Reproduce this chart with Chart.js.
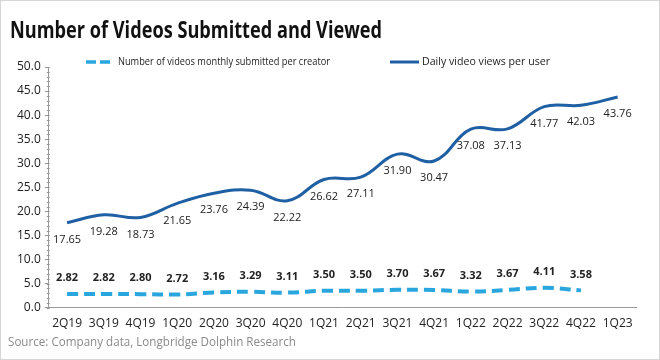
<!DOCTYPE html>
<html>
<head>
<meta charset="utf-8">
<script src="https://cdn.jsdelivr.net/npm/chart.js@4.4.0/dist/chart.umd.min.js"></script>
<style>
  html, body { margin: 0; padding: 0; background: #fff; }
  canvas { display: block; }
</style>
</head>
<body>
<canvas id="chart" width="660" height="360"></canvas>
<script>
/* ---- data ---- */
const QUARTERS  = ['2Q19','3Q19','4Q19','1Q20','2Q20','3Q20','4Q20','1Q21',
                   '2Q21','3Q21','4Q21','1Q22','2Q22','3Q22','4Q22','1Q23'];
const SUBMITTED = [2.82, 2.82, 2.80, 2.72, 3.16, 3.29, 3.11, 3.50,
                   3.50, 3.70, 3.67, 3.32, 3.67, 4.11, 3.58, null];
const VIEWS     = [17.65, 19.28, 18.73, 21.65, 23.76, 24.39, 22.22, 26.62,
                   27.11, 31.90, 30.47, 37.08, 37.13, 41.77, 42.03, 43.76];

const TITLE        = 'Number of Videos Submitted and Viewed';
const LEGEND_SUB   = 'Number of videos monthly submitted per creator';
const LEGEND_VIEWS = 'Daily video views per user';
const SOURCE       = 'Source: Company data, Longbridge Dolphin Research';

const DARK_BLUE  = '#1f5fa3';
const LIGHT_BLUE = '#2aa6de';
const TEXT       = '#222';
const FONT       = '"Open Sans", "Noto Sans", sans-serif';

/* value labels under / over each point */
const valueLabels = {
    id: 'valueLabels',
    afterDatasetsDraw(chart) {
        const { ctx } = chart;
        chart.data.datasets.forEach((ds, i) => {
            const meta = chart.getDatasetMeta(i);
            ctx.save();
            ctx.font = ds._labelFont;
            ctx.fillStyle = TEXT;
            ctx.textAlign = 'center';
            ctx.textBaseline = 'middle';
            meta.data.forEach((pt, j) => {
                const v = ds.data[j];
                if (v == null) return;
                ctx.fillText(v.toFixed(2), pt.x, pt.y + ds._labelOffset);
            });
            ctx.restore();
        });
    },
};

/* title, legend, source, minor ticks, frame */
const decorations = {
    id: 'decorations',
    afterDraw(chart) {
        const { ctx } = chart;
        const y = chart.scales.y;
        ctx.save();

        // minor ticks on the y axis
        ctx.strokeStyle = '#999';
        ctx.lineWidth = 1;
        for (let v = 0; v <= 50; v += 1) {
            const py = Math.round(y.getPixelForValue(v)) + 0.5;
            ctx.beginPath();
            ctx.moveTo(y.right - 2, py);
            ctx.lineTo(y.right + 1, py);
            ctx.stroke();
        }

        // title
        ctx.fillStyle = '#111';
        ctx.textBaseline = 'alphabetic';
        ctx.textAlign = 'left';
        ctx.font = 'bold 23px ' + FONT;
        ctx.fillText(TITLE, 10, 38, 372);

        // legend
        ctx.font = '11px ' + FONT;
        ctx.fillStyle = '#222';
        ctx.textBaseline = 'middle';
        ctx.lineWidth = 3.5;
        ctx.strokeStyle = LIGHT_BLUE;
        ctx.setLineDash([10, 4]);
        ctx.beginPath(); ctx.moveTo(86, 62); ctx.lineTo(112, 62); ctx.stroke();
        ctx.fillText(LEGEND_SUB, 118, 62, 212);
        ctx.setLineDash([]);
        ctx.lineWidth = 3;
        ctx.strokeStyle = DARK_BLUE;
        ctx.beginPath(); ctx.moveTo(390, 62); ctx.lineTo(419, 62); ctx.stroke();
        ctx.fillText(LEGEND_VIEWS, 422, 62, 128);

        // source
        ctx.font = '13px ' + FONT;
        ctx.fillStyle = '#8a8a8a';
        ctx.fillText(SOURCE, 8, 342, 288);

        // frame
        ctx.strokeStyle = '#d6d6d6';
        ctx.lineWidth = 1;
        ctx.strokeRect(0.5, 0.5, 659, 359);
        ctx.restore();
    },
};

new Chart(document.getElementById('chart'), {
    type: 'line',
    plugins: [valueLabels, decorations],
    data: {
        labels: QUARTERS,
        datasets: [
            {
                label: LEGEND_SUB,
                data: SUBMITTED,
                borderColor: LIGHT_BLUE,
                borderWidth: 4,
                borderDash: [11, 6],
                tension: 0.4,
                pointRadius: 0,
                fill: false,
                _labelFont: 'bold 11px ' + FONT,
                _labelOffset: -16,
            },
            {
                label: LEGEND_VIEWS,
                data: VIEWS,
                borderColor: DARK_BLUE,
                borderWidth: 3,
                tension: 0.4,
                pointRadius: 0,
                fill: false,
                _labelFont: '11px ' + FONT,
                _labelOffset: 17,
            },
        ],
    },
    options: {
        responsive: false,
        animation: false,
        layout: { padding: { top: 67, left: 13, right: 24, bottom: 28 } },
        plugins: {
            legend: { display: false },
            title: { display: false },
            tooltip: { enabled: false },
        },
        scales: {
            x: {
                offset: true,
                grid: { display: false },
                border: { color: '#999', width: 1 },
                ticks: { color: TEXT, font: { size: 12, family: FONT }, padding: 1, maxRotation: 0, autoSkip: false },
            },
            y: {
                min: 0, max: 50,
                ticks: {
                    stepSize: 5,
                    color: TEXT,
                    font: { size: 12, family: FONT },
                    padding: 4,
                    callback: v => v.toFixed(1),
                },
                grid: { drawOnChartArea: false, tickLength: 4, color: '#999' },
                border: { color: '#999', width: 1 },
            },
        },
    },
});
</script>
</body>
</html>
